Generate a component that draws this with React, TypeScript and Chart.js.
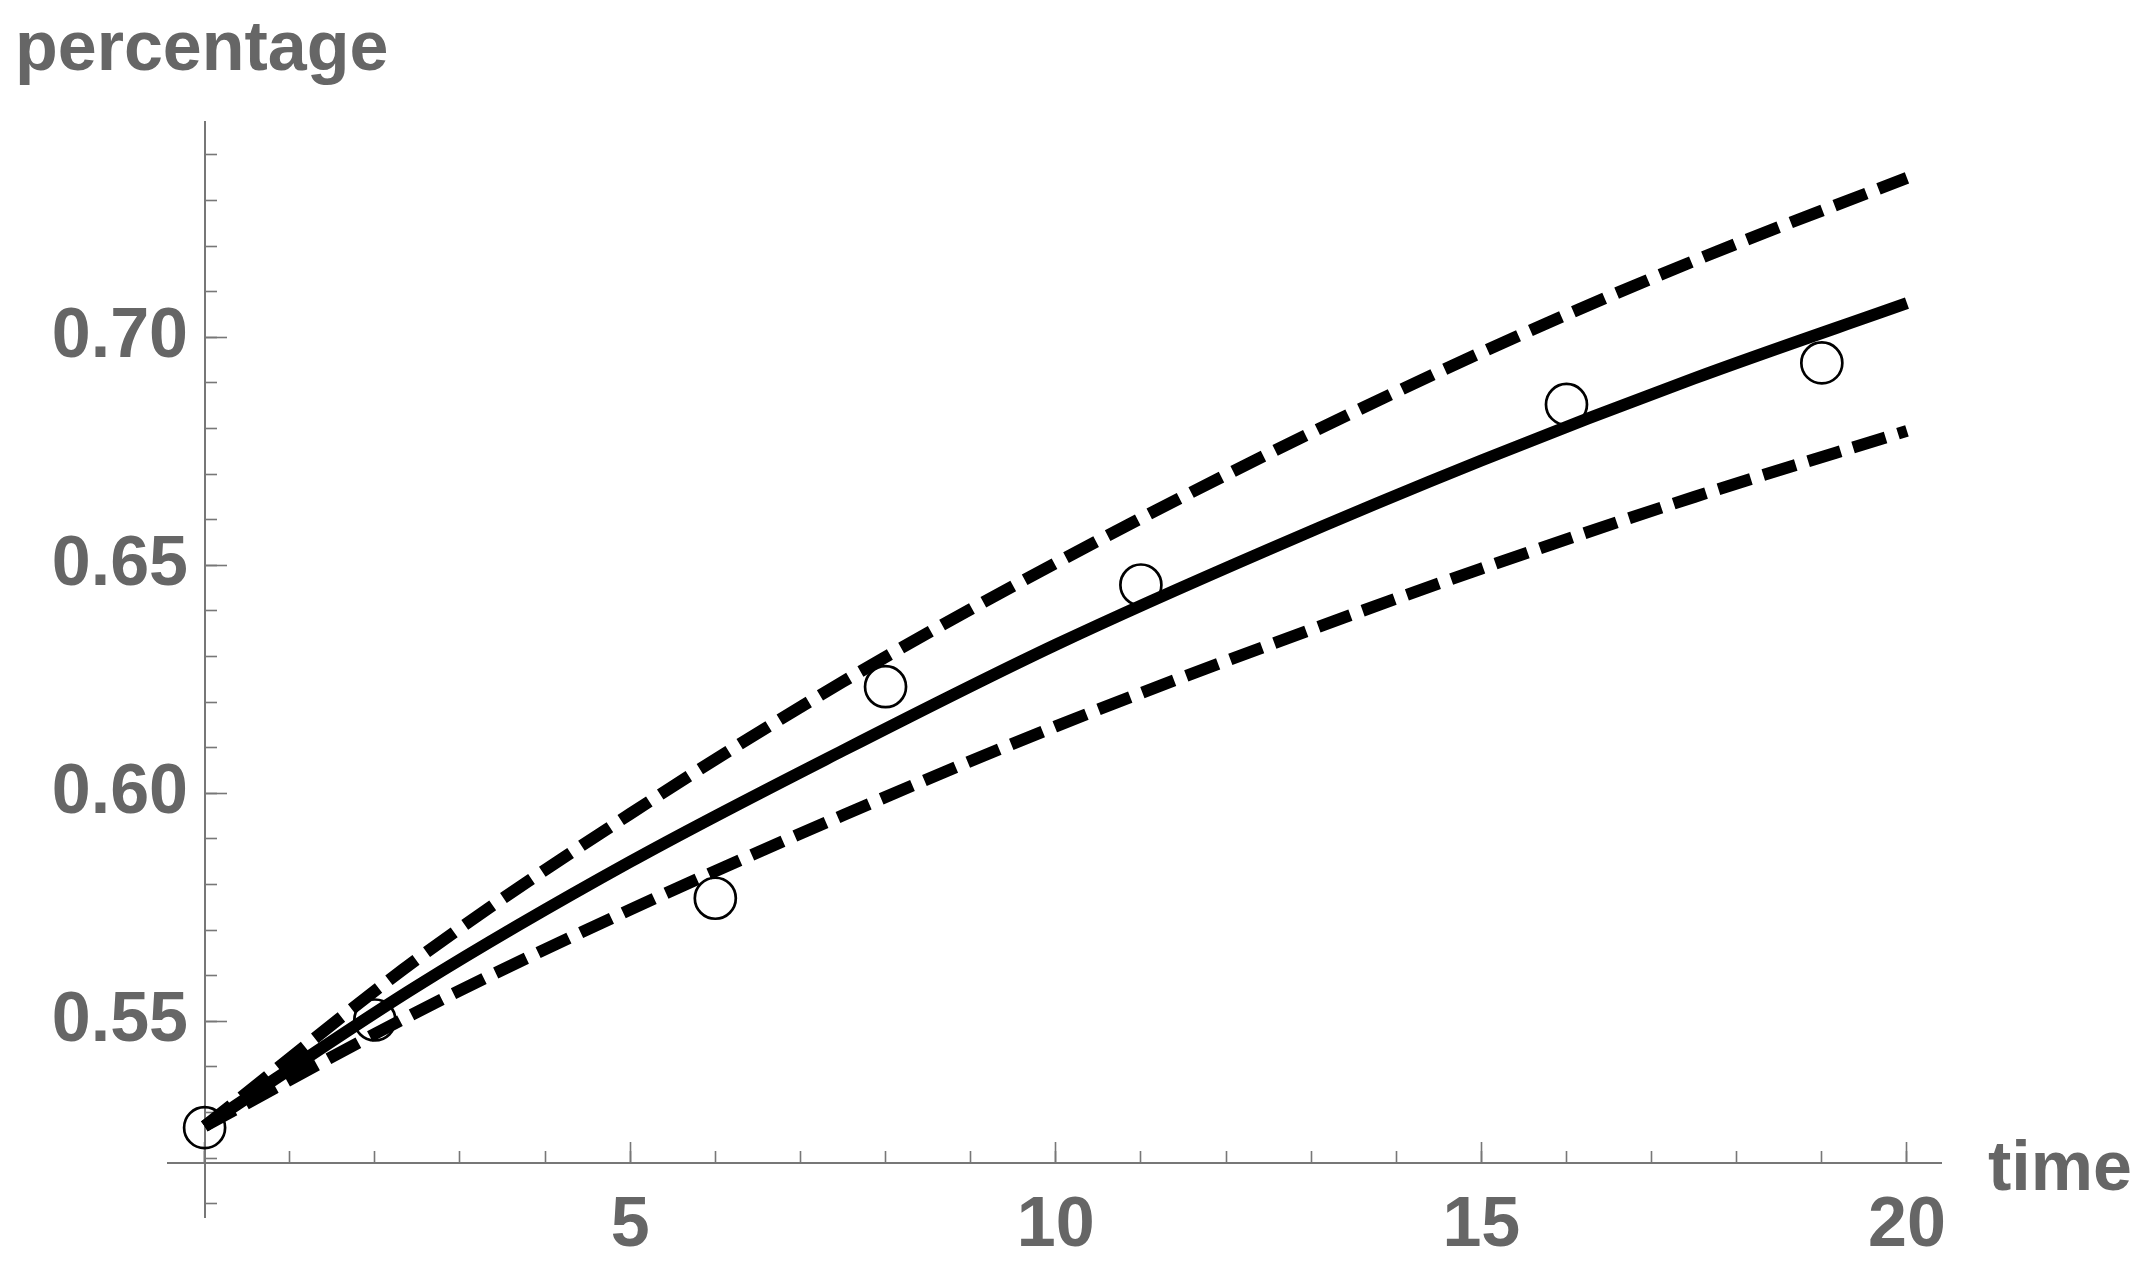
import React, { useEffect, useRef } from 'react';
import { Chart, registerables } from 'chart.js';

Chart.register(...registerables);

// ---- data ----
const fitTime = [0, 2.5, 5, 7.5, 10, 12.5, 15, 17.5, 20];
const fitValues = [0.527, 0.5578, 0.585, 0.6094, 0.6326, 0.6535, 0.673, 0.691, 0.7075];
const upperBand = [0.527, 0.5637, 0.5955, 0.6245, 0.6505, 0.6745, 0.6967, 0.7168, 0.735];
const lowerBand = [0.527, 0.5521, 0.5745, 0.5952, 0.6147, 0.6325, 0.6493, 0.665, 0.6795];

const obsTime = [0, 2, 6, 8, 11, 16, 19];
const obsValue = [0.5267, 0.5503, 0.577, 0.6234, 0.6457, 0.6853, 0.6944];

const xLabelValues = [5, 10, 15, 20];
const yLabelValues = [0.55, 0.6, 0.65, 0.7];

// ---- axis ranges ----
const X_MIN = -0.43;
const X_MAX = 20.4;
const Y_MIN = 0.5071;
const Y_MAX = 0.7473;
const X_AXIS_AT = 0.5189;
const Y_LABEL_AT = -0.195;

const W = 2145;
const H = 1272;

const FONT = { family: "'Liberation Sans', Arial, sans-serif", weight: 'bold' as const, size: 70 };
const TEXT = '#666666';
const AXIS = '#777777';

function pairs(xs: number[], ys: number[]) {
  return xs.map((x, i) => ({ x, y: ys[i] }));
}

export default function App() {
  const ref = useRef<HTMLCanvasElement | null>(null);

  useEffect(() => {
    if (!ref.current) return;
    const lineBase = {
      type: 'line' as const,
      borderColor: '#000000',
      borderWidth: 12,
      pointRadius: 0,
      fill: false,
      cubicInterpolationMode: 'monotone' as const,
      borderCapStyle: 'butt' as const,
    };
    const chart = new Chart(ref.current, {
      type: 'line',
      data: {
        datasets: [
          { ...lineBase, label: 'fit', data: pairs(fitTime, fitValues), order: 1 },
          { ...lineBase, label: 'upper', data: pairs(fitTime, upperBand), borderDash: [34, 13], order: 2 },
          { ...lineBase, label: 'lower', data: pairs(fitTime, lowerBand), borderDash: [34, 13], order: 3 },
          {
            type: 'scatter' as const,
            label: 'data',
            data: pairs(obsTime, obsValue),
            pointRadius: 20.5,
            pointBorderWidth: 2.7,
            pointBorderColor: '#000000',
            pointBackgroundColor: 'rgba(255,255,255,0)',
            showLine: false,
            order: 10,
          } as any,
        ],
      },
      options: {
        responsive: false,
        animation: false,
        devicePixelRatio: 1,
        layout: { padding: { left: 168, right: W - 1941, top: 121.7, bottom: H - 1217 } },
        plugins: { legend: { display: false }, tooltip: { enabled: false }, title: { display: false } },
        scales: {
          x: {
            type: 'linear',
            min: X_MIN,
            max: X_MAX,
            position: { y: X_AXIS_AT } as any,
            ticks: { display: false, stepSize: 1, includeBounds: false, maxTicksLimit: 100 },
            grid: { drawOnChartArea: false, drawTicks: true, tickLength: -13, tickColor: AXIS, tickWidth: 1.6, color: AXIS },
            border: { display: true, color: AXIS, width: 2 },
          },
          xMajor: {
            type: 'linear',
            axis: 'x',
            min: X_MIN,
            max: X_MAX,
            position: { y: X_AXIS_AT } as any,
            ticks: {
              display: true,
              stepSize: 5,
              includeBounds: false,
              maxTicksLimit: 100,
              autoSkip: false,
              maxRotation: 0,
              minRotation: 0,
              padding: 43,
              color: TEXT,
              font: FONT,
              callback: (v: any) => (xLabelValues.includes(Number(v)) ? String(v) : ''),
            },
            grid: { drawOnChartArea: false, drawTicks: true, tickLength: -21, tickColor: AXIS, tickWidth: 1.6, color: AXIS },
            border: { display: false },
          },
          y: {
            type: 'linear',
            min: Y_MIN,
            max: Y_MAX,
            position: { x: 0 } as any,
            ticks: { display: false, stepSize: 0.01, includeBounds: false, maxTicksLimit: 100 },
            grid: { drawOnChartArea: false, drawTicks: true, tickLength: -13, tickColor: AXIS, tickWidth: 1.6, color: AXIS },
            border: { display: true, color: AXIS, width: 2 },
          },
          yMajor: {
            type: 'linear',
            axis: 'y',
            min: Y_MIN,
            max: Y_MAX,
            position: { x: 0 } as any,
            ticks: { display: false, stepSize: 0.05, includeBounds: false, maxTicksLimit: 100 },
            grid: { drawOnChartArea: false, drawTicks: true, tickLength: -22, tickColor: AXIS, tickWidth: 1.6, color: AXIS },
            border: { display: false },
          },
          yLabels: {
            type: 'linear',
            axis: 'y',
            min: Y_MIN,
            max: Y_MAX,
            position: { x: Y_LABEL_AT } as any,
            ticks: {
              display: true,
              stepSize: 0.05,
              includeBounds: false,
              maxTicksLimit: 100,
              autoSkip: false,
              color: TEXT,
              font: FONT,
              callback: (v: any) => {
                const n = Number(v);
                return yLabelValues.some((t) => Math.abs(t - n) < 1e-6) ? n.toFixed(2) : '';
              },
            },
            grid: { display: false, drawTicks: false },
            border: { display: false },
          },
        },
      } as any,
    });
    return () => chart.destroy();
  }, []);

  const labelStyle: React.CSSProperties = {
    position: 'absolute',
    fontFamily: "'Liberation Sans', Arial, sans-serif",
    fontWeight: 'bold',
    fontSize: 70,
    lineHeight: '70px',
    color: TEXT,
    whiteSpace: 'nowrap',
  };

  return (
    <div style={{ position: 'fixed', left: 0, top: 0, width: W, height: H, background: '#ffffff', overflow: 'hidden' }}>
      <canvas ref={ref} width={W} height={H} style={{ position: 'absolute', left: 0, top: 0, width: W, height: H }} />
      <div style={{ ...labelStyle, left: 15, top: 10.7 }}>percentage</div>
      <div style={{ ...labelStyle, left: 1988, top: 1130.7 }}>time</div>
    </div>
  );
}
